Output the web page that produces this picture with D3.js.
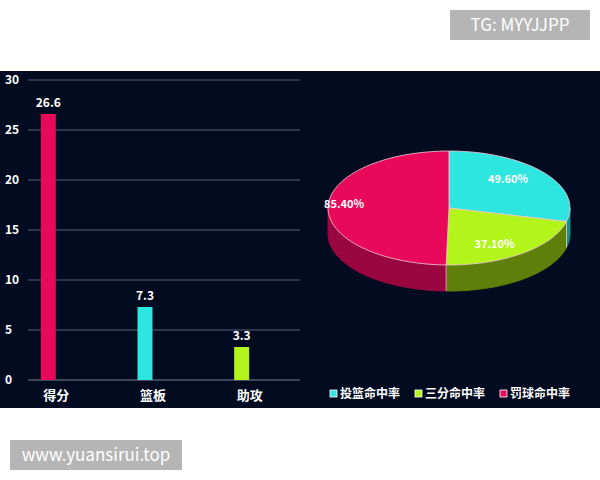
<!DOCTYPE html><html><head><meta charset="utf-8"><script src="https://cdn.jsdelivr.net/npm/d3@7"></script>
<style>body{margin:0;background:#fff}</style></head><body><svg id="c" width="600" height="480"></svg><script>
const categories=["得分","篮板","助攻"];
const barValues=[26.6,7.3,3.3];
const barColors=["#e8095a","#2ee6e0","#b3f41a"];
const yTicks=[0,5,10,15,20,25,30];
const pieLabels=["投篮命中率","三分命中率","罚球命中率"];
const pieValues=[49.6,37.1,85.4];
const pieColors=["#2ee6e0","#b3f41a","#e8095a"];
const pieSide=["#1a8f8b","#5e7f0a","#9a0640"];
const svg=d3.select("#c");
const F="'Noto Sans CJK SC','DejaVu Sans',sans-serif";
svg.append("rect").attr("x",0).attr("y",71).attr("width",600).attr("height",337).attr("fill","#020b1f");
// watermarks
svg.append("rect").attr("x",450).attr("y",10).attr("width",140).attr("height",30).attr("fill","#b5b5b5");
svg.append("text").attr("x",520).attr("y",31).attr("text-anchor","middle").attr("fill","#fff").attr("font-size",17).attr("font-family",F).text("TG: MYYJJPP");
svg.append("rect").attr("x",10).attr("y",440).attr("width",172).attr("height",30).attr("fill","#b5b5b5");
svg.append("text").attr("x",96).attr("y",461).attr("text-anchor","middle").attr("fill","#fff").attr("font-size",17).attr("font-family",F).text("www.yuansirui.top");
// bar chart
const y=d3.scaleLinear().domain([0,30]).range([380,80]);
const x=d3.scaleBand().domain(categories).range([8,298]).paddingInner(0);
const g=svg.append("g");
yTicks.forEach(t=>{
 g.append("line").attr("x1",28).attr("x2",300).attr("y1",y(t)).attr("y2",y(t)).attr("stroke",t?"#5a6378":"#7a8294").attr("stroke-width",1);
 g.append("text").attr("x",5).attr("y",y(t)+4).attr("fill","#fff").attr("font-size",12).attr("font-weight","bold").attr("font-family",F).text(t);
});
const bw=15;
categories.forEach((c,i)=>{
 const cx=x(c)+x.bandwidth()/2-8;
 g.append("rect").attr("x",cx-bw/2+8-8).attr("y",y(barValues[i])).attr("width",bw).attr("height",y(0)-y(barValues[i])).attr("fill",barColors[i]);
 g.append("text").attr("x",cx).attr("y",y(barValues[i])-7).attr("text-anchor","middle").attr("fill","#fff").attr("font-size",12).attr("font-weight","bold").attr("font-family",F).text(barValues[i]);
 g.append("text").attr("x",cx+8).attr("y",400).attr("text-anchor","middle").attr("fill","#fff").attr("font-size",13).attr("font-weight","bold").attr("font-family",F).text(c);
});
// 3D pie
const cx=449,cy=208,rx=121,ry=57,dp=26;
const arcs=d3.pie().sort(null).value(d=>d)(pieValues);
const P=(a,o=0)=>[cx+rx*Math.sin(a),cy-ry*Math.cos(a)+o];
function pathArc(a0,a1,o){const n=40,pts=[];for(let k=0;k<=n;k++)pts.push(P(a0+(a1-a0)*k/n,o));return pts;}
const H=Math.PI/2,T=3*Math.PI/2;
arcs.forEach((a,i)=>{
 const s=Math.max(a.startAngle,H),e=Math.min(a.endAngle,T);
 if(e>s){const top=pathArc(s,e,0),bot=pathArc(e,s,dp);
  svg.append("path").attr("d","M"+top.concat(bot).join("L")+"Z").attr("fill",pieSide[i]).attr("stroke",pieSide[i]);}
});
// inner vertical edge at start of green bottom? edges at angle PI (~green/red boundary)
arcs.forEach((a,i)=>{
 if(a.endAngle>H&&a.endAngle<T){const p=P(a.endAngle);svg.append("line").attr("x1",p[0]).attr("y1",p[1]).attr("x2",p[0]).attr("y2",p[1]+dp).attr("stroke","#f4c9d8").attr("stroke-width",0.8);}
});
arcs.forEach((a,i)=>{
 const pts=[[cx,cy]].concat(pathArc(a.startAngle,a.endAngle,0));
 svg.append("path").attr("d","M"+pts.join("L")+"Z").attr("fill",pieColors[i]).attr("stroke","#f4c9d8").attr("stroke-width",0.8);
 const m=(a.startAngle+a.endAngle)/2;
 const lp=[cx+rx*0.62*Math.sin(m),cy-ry*0.62*Math.cos(m)];
 svg.append("text").attr("x",lp[0]+(i==2?-30:i==0?0:0)).attr("y",lp[1]+(i==1?12:i==0?-3:0)).attr("text-anchor","middle").attr("fill","#fff").attr("font-size",11).attr("font-weight","bold").attr("font-family",F).text(pieValues[i].toFixed(2)+"%");
});
// legend
const lx=[330,415,500];
pieLabels.forEach((l,i)=>{
 svg.append("rect").attr("x",lx[i]).attr("y",390).attr("width",7).attr("height",7).attr("fill",pieColors[i]).attr("stroke","#fff").attr("stroke-width",0.8);
 svg.append("text").attr("x",lx[i]+10).attr("y",398).attr("fill","#fff").attr("font-size",12).attr("font-weight","bold").attr("font-family",F).text(l);
});
</script></body></html>
